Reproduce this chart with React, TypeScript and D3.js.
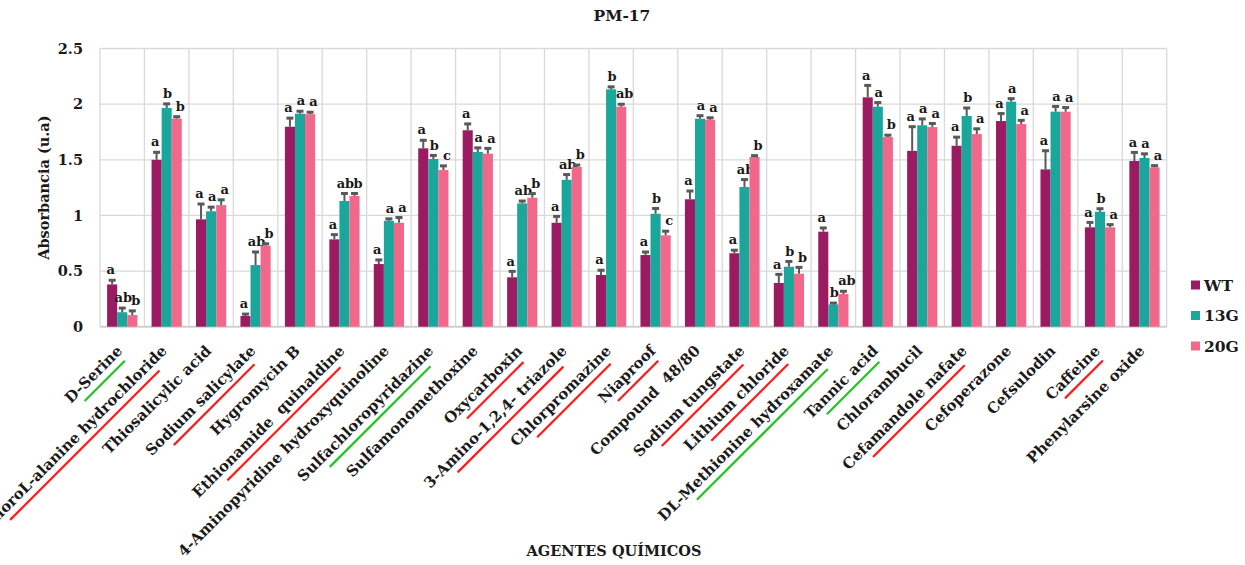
import React, { useEffect, useRef } from "react";
import * as d3 from "d3";

const categories = [
  "D-Serine",
  "β-ChloroL-alanine hydrochloride",
  "Thiosalicylic acid",
  "Sodium salicylate",
  "Hygromycin B",
  "Ethionamide\u00A0\u00A0quinaldine",
  "4-Aminopyridine hydroxyquinoline",
  "Sulfachloropyridazine",
  "Sulfamonomethoxine",
  "Oxycarboxin",
  "3-Amino-1,2,4- triazole",
  "Chlorpromazine",
  "Niaproof",
  "Compound\u00A0\u00A048/80",
  "Sodium tungstate",
  "Lithium chloride",
  "DL-Methionine hydroxamate",
  "Tannic acid",
  "Chlorambucil",
  "Cefamandole nafate",
  "Cefoperazone",
  "Cefsulodin",
  "Caffeine",
  "Phenylarsine oxide",
];

// g = sensitive (green underline), r = resistant (red underline)
const highlight = ["g", "r", "", "r", "", "r", "", "g", "", "r", "r", "r", "r", "", "r", "r", "g", "g", "", "r", "", "", "r", ""];

const series = ["WT", "13G", "20G"];

const wtValues = [0.38, 1.5, 0.965, 0.096, 1.797, 0.785, 0.563, 1.603, 1.765, 0.444, 0.934, 0.465, 0.644, 1.145, 0.66, 0.393, 0.854, 2.061, 1.58, 1.626, 1.848, 1.414, 0.893, 1.489];
const wtErr = [0.04, 0.07, 0.14, 0.02, 0.08, 0.045, 0.04, 0.075, 0.06, 0.056, 0.06, 0.045, 0.03, 0.077, 0.03, 0.08, 0.036, 0.11, 0.22, 0.08, 0.07, 0.17, 0.047, 0.08];
const g13Values = [0.13, 1.965, 1.037, 0.554, 1.914, 1.13, 0.952, 1.507, 1.57, 1.108, 1.32, 2.133, 1.015, 1.869, 1.255, 0.539, 0.2, 1.977, 1.81, 1.893, 2.022, 1.932, 1.033, 1.516];
const g13Err = [0.04, 0.04, 0.04, 0.12, 0.025, 0.07, 0.02, 0.035, 0.04, 0.024, 0.05, 0.025, 0.05, 0.03, 0.07, 0.05, 0.015, 0.04, 0.06, 0.075, 0.03, 0.05, 0.03, 0.04];
const g20Values = [0.105, 1.87, 1.093, 0.728, 1.91, 1.175, 0.934, 1.408, 1.555, 1.159, 1.435, 1.977, 0.821, 1.86, 1.525, 0.476, 0.294, 1.704, 1.794, 1.731, 1.821, 1.932, 0.893, 1.432];
const g20Err = [0.04, 0.02, 0.05, 0.02, 0.02, 0.025, 0.05, 0.04, 0.05, 0.04, 0.02, 0.025, 0.04, 0.02, 0.015, 0.06, 0.027, 0.02, 0.035, 0.05, 0.036, 0.04, 0.027, 0.018];

const wtLetters = categories.map(() => "a");
const g13Letters = ["ab", "b", "a", "ab", "a", "ab", "a", "b", "a", "ab", "ab", "b", "b", "a", "ab", "b", "b", "a", "a", "b", "a", "a", "b", "a"];
const g20Letters = ["b", "b", "a", "b", "a", "b", "a", "c", "a", "b", "b", "ab", "c", "a", "b", "b", "ab", "b", "a", "a", "a", "a", "a", "a"];

const yTicks = [0, 0.5, 1, 1.5, 2, 2.5];
const yTickLabels = ["0", "0.5", "1", "1.5", "2", "2.5"];

const colors = ["#9B1B62", "#1AA69A", "#F2688A"];
const FONT = "'DejaVu Serif', serif";

export default function App() {
  const ref = useRef<SVGSVGElement | null>(null);

  useEffect(() => {
    const svg = d3.select(ref.current);
    svg.selectAll("*").remove();

    const W = 1245, H = 565;
    const left = 100, right = 1166.7, top = 48.5, bottom = 326.7;

    const x0 = d3.scaleBand<string>().domain(categories).range([left, right]).padding(0);
    const bw = x0.bandwidth();
    const x1 = d3.scaleBand<string>().domain(series).range([bw * 0.16, bw * 0.84]).padding(0);
    const y = d3.scaleLinear().domain([0, 2.5]).range([bottom, top]);

    const values = [wtValues, g13Values, g20Values];
    const errs = [wtErr, g13Err, g20Err];
    const letters = [wtLetters, g13Letters, g20Letters];
    const letterShift = [-1.5, 1, 3.5];

    svg.attr("width", W).attr("height", H);

    // grid
    const grid = svg.append("g");
    yTicks.forEach((t) => {
      grid.append("line").attr("x1", left).attr("x2", right).attr("y1", y(t)).attr("y2", y(t))
        .attr("stroke", t === 0 ? "#cfcfcf" : "#d9d9d9").attr("stroke-width", t === 0 ? 2 : 1.3);
    });
    categories.forEach((c, i) => {
      const xv = x0(c)!;
      grid.append("line").attr("x1", xv).attr("x2", xv).attr("y1", top).attr("y2", bottom)
        .attr("stroke", "#d9d9d9").attr("stroke-width", 1.3);
      if (i === categories.length - 1) {
        grid.append("line").attr("x1", xv + bw).attr("x2", xv + bw).attr("y1", top).attr("y2", bottom)
          .attr("stroke", "#d9d9d9").attr("stroke-width", 1.3);
      }
    });

    // y tick labels
    yTicks.forEach((t, i) => {
      svg.append("text").attr("x", 83).attr("y", y(t)).attr("dy", "0.36em")
        .attr("text-anchor", "end").attr("font-family", FONT).attr("font-weight", "bold")
        .attr("font-size", 14.5).attr("fill", "#1a1a1a").text(yTickLabels[i]);
    });

    // bars
    series.forEach((s, si) => {
      const g = svg.append("g");
      categories.forEach((c, ci) => {
        const v = values[si][ci];
        const e = errs[si][ci];
        const bx = x0(c)! + x1(s)!;
        const w = x1.bandwidth();
        const cx = bx + w / 2;
        g.append("rect").attr("x", bx).attr("y", y(v)).attr("width", w).attr("height", y(0) - y(v))
          .attr("fill", colors[si]);
        g.append("line").attr("x1", cx).attr("x2", cx).attr("y1", y(v)).attr("y2", y(v + e))
          .attr("stroke", "#595959").attr("stroke-width", 2);
        g.append("rect").attr("x", cx - 3.5).attr("y", y(v + e) - 1.2).attr("width", 7).attr("height", 3)
          .attr("fill", "#595959");
        g.append("text").attr("x", cx + letterShift[si]).attr("y", y(v + e) - 5.5).attr("text-anchor", "middle")
          .attr("font-family", FONT).attr("font-weight", "bold").attr("font-size", 13)
          .attr("fill", "#1a1a1a").text(letters[si][ci]);
      });
    });

    // category labels
    categories.forEach((c, ci) => {
      const cx = x0(c)! + bw / 2;
      const g = svg.append("g").attr("transform", `translate(${cx + 1},${bottom + 25}) rotate(-45)`);
      const t = g.append("text").attr("x", 0).attr("y", 0).attr("text-anchor", "end")
        .attr("font-family", FONT).attr("font-weight", "bold").attr("font-size", 15)
        .attr("fill", "#1a1a1a").text(c);
      const len = (t.node() as SVGTextElement).getComputedTextLength();
      if (highlight[ci]) {
        g.append("line").attr("x1", -len * 0.84).attr("x2", -len * 0.07).attr("y1", 7.5).attr("y2", 7.5)
          .attr("stroke", highlight[ci] === "g" ? "#22c322" : "#ff1a1a").attr("stroke-width", 2.2);
      }
    });

    // titles
    svg.append("text").attr("x", 622).attr("y", 21).attr("text-anchor", "middle")
      .attr("font-family", FONT).attr("font-weight", "bold").attr("font-size", 15.5)
      .attr("fill", "#1a1a1a").text("PM-17");
    svg.append("text").attr("transform", `translate(49,${(top + bottom) / 2}) rotate(-90)`)
      .attr("text-anchor", "middle").attr("font-family", FONT).attr("font-weight", "bold")
      .attr("font-size", 14.5).attr("fill", "#1a1a1a").text("Absorbancia (u.a)");
    svg.append("text").attr("x", 614).attr("y", 556).attr("text-anchor", "middle")
      .attr("font-family", FONT).attr("font-weight", "bold").attr("font-size", 14.5)
      .attr("fill", "#1a1a1a").text("AGENTES QUÍMICOS");

    // legend
    const ly = [285, 315.5, 346];
    series.forEach((s, si) => {
      svg.append("rect").attr("x", 1191).attr("y", ly[si] - 4.5).attr("width", 9).attr("height", 9)
        .attr("fill", colors[si]);
      svg.append("text").attr("x", 1204).attr("y", ly[si]).attr("dy", "0.36em")
        .attr("font-family", FONT).attr("font-weight", "bold").attr("font-size", 15.5)
        .attr("fill", "#1a1a1a").text(s);
    });
  }, []);

  return (
    <svg ref={ref} style={{ position: "absolute", left: 0, top: 0, background: "#fff" }} width={1245} height={565} />
  );
}
